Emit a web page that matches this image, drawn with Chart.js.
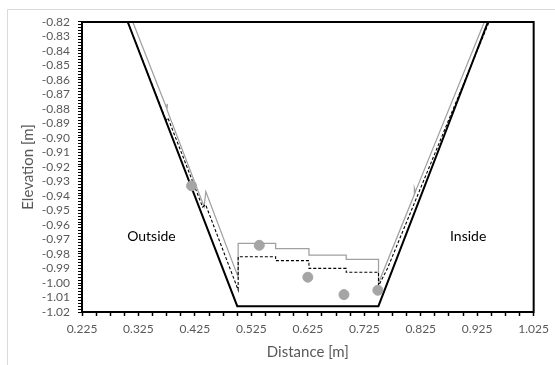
<!DOCTYPE html>
<html>
<head>
<meta charset="utf-8">
<script src="https://cdn.jsdelivr.net/npm/chart.js@4"></script>
<style>
  html, body { margin: 0; padding: 0; background: #fff; }
  canvas { display: block; }
</style>
</head>
<body>
<canvas id="profileChart" width="555" height="365"></canvas>
<script>
// original channel bed
const bedX = [0.306, 0.500, 0.750, 0.944];
const bedY = [-0.82, -1.016, -1.016, -0.82];

// grey solid profile
const greyX = [0.315, 0.3745, 0.3762, 0.3755, 0.4413, 0.4443, 0.5016, 0.5016, 0.568, 0.568, 0.627, 0.627, 0.693, 0.693, 0.7502, 0.7502, 0.8147, 0.8137, 0.8155, 0.9376];
const greyY = [-0.82, -0.879, -0.8765, -0.8805, -0.9474, -0.937, -0.996, -0.9726, -0.9726, -0.9763, -0.9763, -0.9807, -0.9807, -0.9837, -0.9837, -1.000, -0.938, -0.9345, -0.937, -0.82];

// dashed profile
const dashX = [0.306, 0.374, 0.377, 0.4386, 0.444, 0.5016, 0.5016, 0.568, 0.568, 0.627, 0.627, 0.693, 0.693, 0.7502, 0.7502, 0.766, 0.946];
const dashY = [-0.82, -0.888, -0.886, -0.9476, -0.946, -1.0048, -0.9819, -0.9819, -0.9846, -0.9846, -0.9899, -0.9899, -0.9926, -0.9926, -1.002, -0.99, -0.82];

// measured points
const pointX = [0.419, 0.539, 0.625, 0.689, 0.749];
const pointY = [-0.933, -0.974, -0.996, -1.008, -1.005];

const xTickLabels = ['0.225', '0.325', '0.425', '0.525', '0.625', '0.725', '0.825', '0.925', '1.025'];
const yTickLabels = ['-0.82', '-0.83', '-0.84', '-0.85', '-0.86', '-0.87', '-0.88', '-0.89', '-0.90', '-0.91',
  '-0.92', '-0.93', '-0.94', '-0.95', '-0.96', '-0.97', '-0.98', '-0.99', '-1.00', '-1.01', '-1.02'];

const sideLabels = [
  { text: 'Outside', x: 0.348, y: -0.968 },
  { text: 'Inside', x: 0.909, y: -0.968 }
];

const pairs = (xs, ys) => xs.map((x, i) => ({ x: x, y: ys[i] }));

// ticks with minor marks in between the labelled ones
function buildTicks(labels, minorPerMajor) {
  return function (scale) {
    const vals = labels.map(Number);
    const lo = Math.min(...vals), hi = Math.max(...vals);
    const step = Math.abs(vals[1] - vals[0]) / minorPerMajor;
    const n = Math.round((hi - lo) / step);
    const ticks = [];
    for (let i = 0; i <= n; i++) ticks.push({ value: lo + i * step });
    scale.ticks = ticks;
  };
}
function labelFor(labels) {
  return function (value) {
    const hit = labels.find(l => Math.abs(Number(l) - value) < 1e-7);
    return hit || '';
  };
}

const framePlugin = {
  id: 'frame',
  beforeDraw(chart) {
    const ctx = chart.ctx;
    ctx.save();
    ctx.strokeStyle = '#d9d9d9';
    ctx.lineWidth = 1;
    ctx.beginPath();
    ctx.moveTo(7.5, 400);
    ctx.lineTo(7.5, 9.5);
    ctx.lineTo(600, 9.5);
    ctx.stroke();
    ctx.restore();
  },
  afterDatasetsDraw(chart) {
    const { ctx, chartArea, scales } = chart;
    ctx.save();
    ctx.strokeStyle = '#000';
    ctx.lineWidth = 2;
    ctx.strokeRect(chartArea.left, chartArea.top, chartArea.right - chartArea.left, chartArea.bottom - chartArea.top);
    ctx.fillStyle = '#000';
    ctx.font = '14px Lato';
    ctx.textAlign = 'center';
    ctx.textBaseline = 'middle';
    sideLabels.forEach(l => {
      ctx.fillText(l.text, scales.x.getPixelForValue(l.x), scales.y.getPixelForValue(l.y));
    });
    ctx.restore();
  }
};

const ctx = document.getElementById('profileChart').getContext('2d');
new Chart(ctx, {
  type: 'scatter',
  data: {
    datasets: [
      {
        label: 'Measured',
        data: pairs(pointX, pointY),
        backgroundColor: '#a5a5a5',
        borderColor: '#a5a5a5',
        pointRadius: 5,
        showLine: false,
        order: 0
      },
      {
        label: 'Grey profile',
        data: pairs(greyX, greyY),
        showLine: true,
        borderColor: '#a0a0a0',
        borderWidth: 1.25,
        pointRadius: 0,
        order: 3
      },
      {
        label: 'Dashed profile',
        data: pairs(dashX, dashY),
        showLine: true,
        borderColor: '#000',
        borderWidth: 1.1,
        borderDash: [3, 2],
        pointRadius: 0,
        order: 2
      },
      {
        label: 'Bed',
        data: pairs(bedX, bedY),
        showLine: true,
        borderColor: '#000',
        borderWidth: 2,
        pointRadius: 0,
        order: 1
      }
    ]
  },
  options: {
    responsive: false,
    animation: false,
    layout: { padding: { left: 0, top: 22, right: 18, bottom: 0 } },
    plugins: {
      legend: { display: false },
      tooltip: { enabled: false }
    },
    scales: {
      x: {
        type: 'linear',
        min: 0.225,
        max: 1.025,
        afterBuildTicks: buildTicks(xTickLabels, 4),
        afterFit: s => { s.height = 53; },
        grid: { drawOnChartArea: false, tickLength: 4, tickColor: '#000', tickWidth: 1.5 },
        border: { color: '#000', width: 2 },
        ticks: {
          autoSkip: false,
          maxRotation: 0,
          padding: 6,
          color: '#595959',
          font: { family: 'Lato', size: 12 },
          callback: labelFor(xTickLabels)
        },
        title: {
          display: true,
          text: 'Distance [m]',
          color: '#595959',
          font: { family: 'Lato', size: 15 },
          padding: { top: 0, bottom: 4 }
        }
      },
      y: {
        type: 'linear',
        min: -1.02,
        max: -0.82,
        afterBuildTicks: buildTicks(yTickLabels, 5),
        afterFit: s => { s.width = 82; },
        grid: { drawOnChartArea: false, tickLength: 4, tickColor: '#000', tickWidth: 1 },
        border: { color: '#000', width: 2 },
        ticks: {
          autoSkip: false,
          padding: 8,
          color: '#595959',
          font: { family: 'Lato', size: 12 },
          callback: labelFor(yTickLabels)
        },
        title: {
          display: true,
          text: 'Elevation [m]',
          color: '#595959',
          font: { family: 'Lato', size: 15 },
          padding: { top: 19, bottom: 0 }
        }
      }
    }
  },
  plugins: [framePlugin]
});
</script>
</body>
</html>
